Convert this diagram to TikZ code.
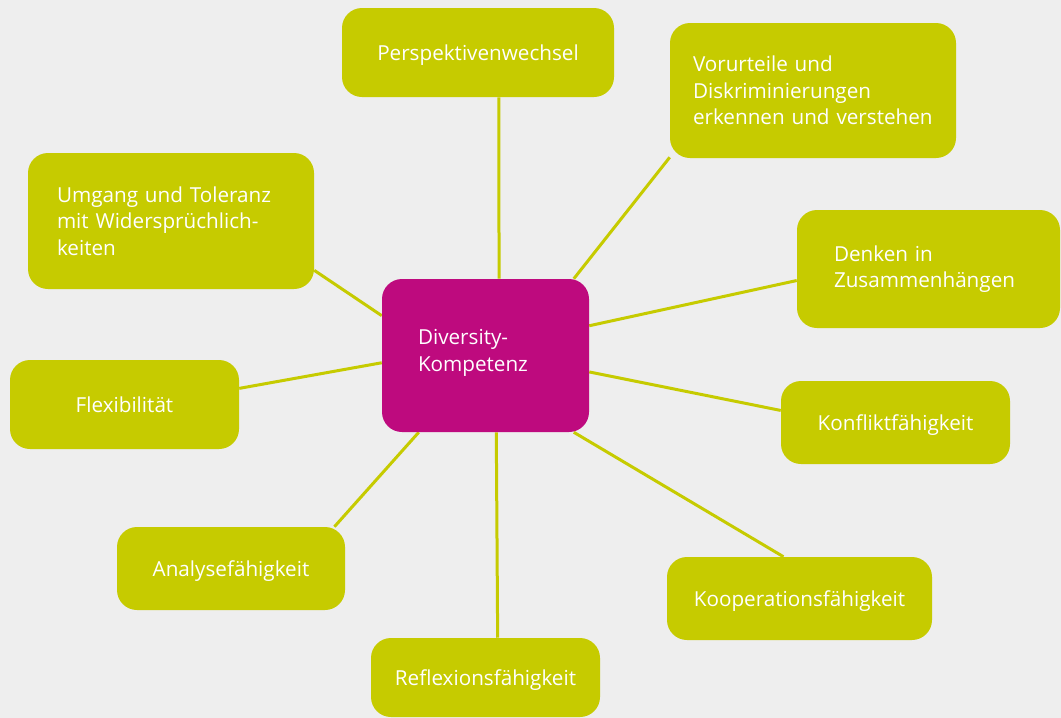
\documentclass[tikz,border=0pt]{standalone}
\usepackage{fontspec}
\setmainfont{Open Sans}

\definecolor{lime}{HTML}{C6CB00}
\definecolor{berry}{HTML}{BE0A7E}
\definecolor{paper}{HTML}{EEEEEE}

\pgfdeclarelayer{paper}
\pgfdeclarelayer{links}
\pgfsetlayers{paper,links,main}

\tikzset{
  box/.style={rectangle, rounded corners=15pt, fill=lime, text=white,
    font=\fontsize{15.5}{20}\selectfont, inner sep=0pt, align=center},
  onebox/.style={box, text depth=0pt},
  link/.style={draw=lime, line width=2.25pt},
}

\begin{document}
\begin{tikzpicture}[x=0.75pt, y=-0.75pt]
        % Define the boxes round the centre
        \node at (478, 52.5) (persp) [onebox, minimum width=204pt, minimum height=66.75pt] {Perspektivenwechsel};
        \node at (813, 90.5) (vorurt) [box, minimum width=214.5pt, minimum height=101.25pt,
          inner xsep=17.25pt, text width=180pt, align=left] {Vorurteile und\\ Diskriminierungen\\ erkennen und verstehen};
        \node at (171, 221) (umgang) [box, minimum width=214.5pt, minimum height=102pt,
          inner xsep=21.75pt, text width=171pt, align=left] {Umgang und Toleranz\\ mit Widersprüchlich-\\ keiten};
        \node at (928.5, 269) (denken) [box, minimum width=197.25pt, minimum height=88.5pt,
          inner xsep=27.75pt, text width=141.75pt, align=left] {Denken in\\ Zusammenhängen};
        \node at (124.5, 404.5) (flex) [onebox, minimum width=171.75pt, minimum height=66.75pt] {Flexibilität};
        \node at (895.5, 422.5) (konflikt) [onebox, minimum width=171.75pt, minimum height=62.25pt] {Konfliktfähigkeit};
        \node at (799.5, 598.5) (koop) [onebox, minimum width=198.75pt, minimum height=62.25pt] {Kooperationsfähigkeit};
        \node at (485.5, 677.5) (reflex) [onebox, minimum width=171.75pt, minimum height=59.25pt] {Reflexionsfähigkeit};
        \node at (231, 568.5) (analyse) [onebox, minimum width=171pt, minimum height=62.25pt] {Analysefähigkeit};

        % Centre box
        \node at (485.5, 355.5) (div) [box, fill=berry, minimum width=155.25pt, minimum height=114.75pt,
          inner xsep=27pt, text width=101.25pt, text depth=27.75pt, align=left] {Diversity-\\ Kompetenz};

        % Draw spokes behind the boxes
        \begin{pgfonlayer}{links}
        \draw[link] (div.80) -- (persp.295);
        \draw[link] (div.41.8) -- (vorurt.205.7);
        \draw[link] (div.159.1) -- (umgang.341.1);
        \draw[link] (div.16.4) -- (denken.185.2);
        \draw[link] (div.184.1) -- (flex.8.7);
        \draw[link] (div.351.5) -- (konflikt.174.8);
        \draw[link] (div.319.8) -- (koop.111.7);
        \draw[link] (div.278.5) -- (reflex.73.8);
        \draw[link] (div.229.4) -- (analyse.22.1);
        \end{pgfonlayer}

        \begin{pgfonlayer}{paper}
        \fill[paper] (0, 0) rectangle (1061, 718);
        \end{pgfonlayer}
    \end{tikzpicture}
\end{document}
